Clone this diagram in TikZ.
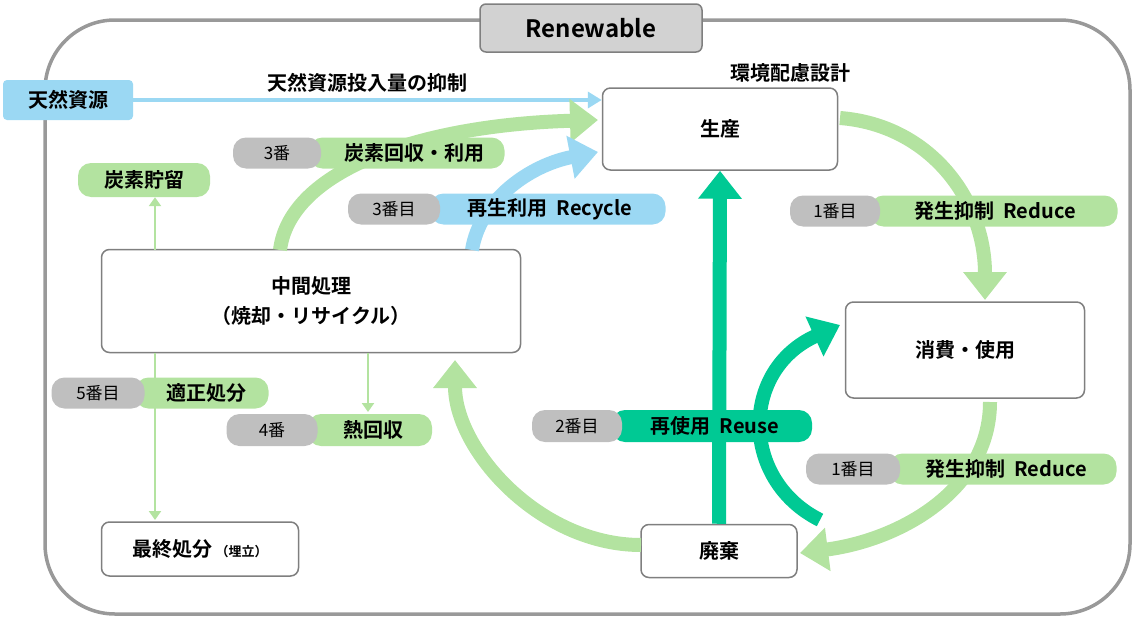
\documentclass[tikz,border=0pt]{standalone}
\usepackage{fontspec}
\setmainfont{Noto Sans CJK JP}[BoldFont={* Bold}]
\usetikzlibrary{arrows.meta}
\definecolor{lg}{HTML}{B3E3A0}
\definecolor{tl}{HTML}{00C994}
\definecolor{lb}{HTML}{9BD8F3}
\definecolor{gy}{HTML}{BFBFBF}
\definecolor{bd}{HTML}{7F7F7F}
\tikzset{
 box/.style={draw=bd,line width=1.5pt,fill=white,rounded corners=8pt,font=\bfseries\fontsize{20}{30}\selectfont,align=center},
 big/.style={line width=14pt,-{Triangle[length=28pt,width=42pt]}},
 thin/.style={lg,line width=2.5pt,-{Triangle[length=9pt,width=12pt]}},
 pill/.style={rounded corners=13pt,font=\bfseries\fontsize{20}{22}\selectfont},
 gp/.style={fill=gy,rounded corners=13pt,font=\fontsize{17}{20}\selectfont},
}
\begin{document}
\begin{tikzpicture}[x=1pt,y=-1pt]
\useasboundingbox (0,0) rectangle (1138,621);
\draw[gy!80!black,line width=3.5pt,rounded corners=70pt] (45,20) rectangle (1130,614);
\node[draw=bd,fill=gy!70,line width=1.5pt,rounded corners=6pt,minimum width=222pt,minimum height=48pt,font=\bfseries\fontsize{24}{28}\selectfont] (ttl) at (591,28) {Renewable};
% boxes
\node[box,minimum width=235pt,minimum height=82pt] (sei) at (720,129) {生産};
\node[box,minimum width=239pt,minimum height=96pt] (sho) at (965,350) {消費・使用};
\node[box,minimum width=156pt,minimum height=53pt] (hai) at (719,551) {廃棄};
\node[box,minimum width=419pt,minimum height=103pt] (chu) at (311,301) {中間処理\\（焼却・リサイクル）};
\node[box,minimum width=197pt,minimum height=54pt] (sai) at (200,549) {最終処分\,{\fontsize{13}{15}\selectfont（埋立）}};
\node[fill=lb,rounded corners=4pt,minimum width=130pt,minimum height=40pt,font=\bfseries\fontsize{20}{22}\selectfont] (ten) at (68,100) {天然資源};
\node[fill=lg,rounded corners=13pt,minimum width=132pt,minimum height=34pt,font=\bfseries\fontsize{20}{22}\selectfont] (tan) at (144,180) {炭素貯留};
% coordinates
\coordinate (a1) at (598,120); \coordinate (a2) at (598,152);
\coordinate (c1) at (985,300); \coordinate (c2) at (800,553);
\coordinate (c3) at (455,360); \coordinate (c4) at (840,325);
% arrows
\draw[lb,line width=4pt,-{Triangle[length=14pt,width=16pt]}] (ten.east) -- (ten.east-|sei.west) node[pos=0.5,above=2pt,black,font=\bfseries\fontsize{20}{22}\selectfont]{天然資源投入量の抑制};
\node[font=\bfseries\fontsize{20}{22}\selectfont] (kan) at (790,73) {環境配慮設計};
\draw[big,lg] (280,250) .. controls (290,170) and (420,125) .. (a1);
\draw[big,lb] (472,250) .. controls (480,200) and (530,165) .. (a2);
\draw[big,lg] (840,118) .. controls (930,125) and (985,200) .. (c1);
\draw[big,lg] (990,402) .. controls (990,490) and (900,540) .. (c2);
\draw[big,lg] (641,545) .. controls (540,545) and (455,450) .. (c3);
\draw[big,tl] (hai.north) -- (sei.south);
\draw[big,tl] (820,520) .. controls (740,480) and (740,370) .. (c4);
\draw[thin] (155,250) -- (tan.south-|155,0);
\draw[thin] (155,353) -- (155,520);
\draw[thin] (368,353) -- (368,412);
% pills
\node[pill,fill=lg,minimum width=195pt,minimum height=31pt] (p1) at (407,153) {\hspace*{14pt}炭素回収・利用};
\node[gp,minimum width=88pt,minimum height=31pt] (g1) at (277,153) {3番};
\node[pill,fill=lb,minimum width=235pt,minimum height=31pt] (p2) at (548,209) {\hspace*{4pt}再生利用\ \ Recycle};
\node[gp,minimum width=92pt,minimum height=31pt] (g2) at (394,209) {3番目};
\node[pill,fill=lg,minimum width=247pt,minimum height=31pt] (p3) at (994,211) {\hspace*{2pt}発生抑制\ \ Reduce};
\node[gp,minimum width=90pt,minimum height=31pt] (g3) at (835,211) {1番目};
\node[pill,fill=lg,minimum width=133pt,minimum height=31pt] (p4) at (202,393) {\hspace*{8pt}適正処分};
\node[gp,minimum width=93pt,minimum height=31pt] (g4) at (98,393) {5番目};
\node[pill,fill=lg,minimum width=124pt,minimum height=32pt] (p5) at (370,430) {\hspace*{6pt}熱回収};
\node[gp,minimum width=91pt,minimum height=32pt] (g5) at (272,430) {4番};
\node[pill,fill=tl,minimum width=200pt,minimum height=32pt] (p6) at (712,426) {\hspace*{6pt}再使用\ \ Reuse};
\node[gp,minimum width=90pt,minimum height=32pt] (g6) at (577,426) {2番目};
\node[pill,fill=lg,minimum width=227pt,minimum height=31pt] (p7) at (1003,469) {\hspace*{6pt}発生抑制\ \ Reduce};
\node[gp,minimum width=94pt,minimum height=31pt] (g7) at (853,469) {1番目};
\end{tikzpicture}
\end{document}
